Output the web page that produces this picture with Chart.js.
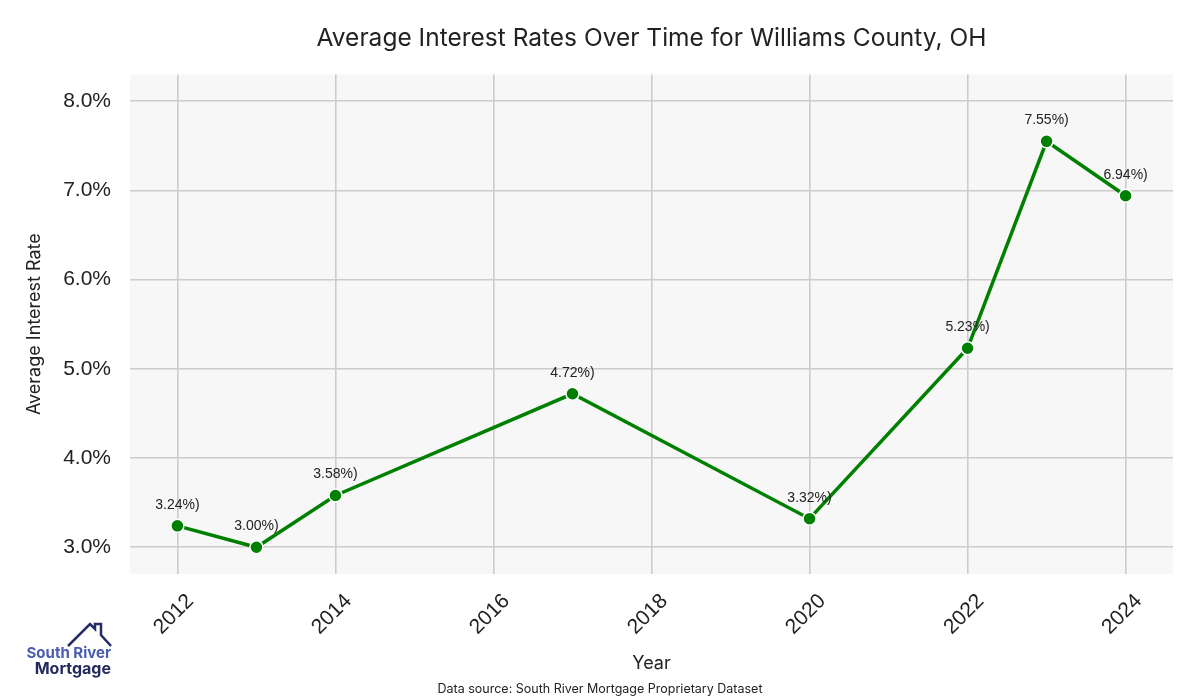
<!DOCTYPE html>
<html>
<head>
<meta charset="utf-8">
<title>Average Interest Rates Over Time for Williams County, OH</title>
<script src="https://cdn.jsdelivr.net/npm/chart.js@4.4.1/dist/chart.umd.min.js"></script>
<style>
  body { margin: 0; background: #ffffff; }
  #wrap { width: 1200px; height: 700px; }
</style>
</head>
<body>
<div id="wrap"><canvas id="rateChart" width="1200" height="700"></canvas></div>
<script>
// data
var years = [2012, 2013, 2014, 2017, 2020, 2022, 2023, 2024];
var rates = [3.24, 3.00, 3.58, 4.72, 3.32, 5.23, 7.55, 6.94];
var yearTicks = [2012, 2014, 2016, 2018, 2020, 2022, 2024];
var rateTicks = [3, 4, 5, 6, 7, 8];

var points = years.map(function (y, i) { return { x: y, y: rates[i] }; });

// grey panel behind the plot
var panelBg = {
  id: 'panelBg',
  beforeDraw: function (chart) {
    var a = chart.chartArea, ctx = chart.ctx;
    ctx.save();
    ctx.fillStyle = '#f7f7f7';
    ctx.fillRect(a.left, a.top, a.right - a.left, a.bottom - a.top);
    ctx.restore();
  }
};

// value labels above each point
var pointLabels = {
  id: 'pointLabels',
  afterDatasetsDraw: function (chart) {
    var ctx = chart.ctx;
    var meta = chart.getDatasetMeta(0);
    ctx.save();
    ctx.font = '14px "Liberation Sans", Arial, sans-serif';
    ctx.fillStyle = '#222222';
    ctx.textAlign = 'center';
    ctx.textBaseline = 'middle';
    meta.data.forEach(function (pt, i) {
      ctx.fillText(rates[i].toFixed(2) + '%)', pt.x, pt.y - 21);
    });
    ctx.restore();
  }
};

// source line and logo
var footer = {
  id: 'footer',
  afterDraw: function (chart) {
    var ctx = chart.ctx;
    ctx.save();
    ctx.font = '12.5px Inter, sans-serif';
    ctx.fillStyle = '#222222';
    ctx.textAlign = 'center';
    ctx.textBaseline = 'middle';
    ctx.fillText('Data source: South River Mortgage Proprietary Dataset', 600, 689);

    // house outline
    ctx.strokeStyle = '#262d66';
    ctx.lineWidth = 2.5;
    ctx.lineJoin = 'miter';
    ctx.beginPath();
    ctx.moveTo(68, 646);
    ctx.lineTo(90, 624);
    ctx.lineTo(95, 629);
    ctx.lineTo(95, 624);
    ctx.lineTo(101, 624);
    ctx.lineTo(101, 635);
    ctx.lineTo(111, 646);
    ctx.stroke();

    ctx.textAlign = 'right';
    ctx.font = 'bold 15px Inter, sans-serif';
    ctx.fillStyle = '#4a5cb0';
    ctx.fillText('South River', 111, 653);
    ctx.fillStyle = '#232a5c';
    ctx.font = 'bold 16px Inter, sans-serif';
    ctx.fillText('Mortgage', 111, 669);
    ctx.restore();
  }
};

var ctx = document.getElementById('rateChart').getContext('2d');

var rateChart = new Chart(ctx, {
  type: 'line',
  data: {
    datasets: [{
      data: points,
      borderColor: '#008000',
      backgroundColor: '#008000',
      borderWidth: 3.5,
      pointRadius: 6.5,
      pointHoverRadius: 6.5,
      pointBorderColor: '#ffffff',
      pointBorderWidth: 1.5,
      tension: 0
    }]
  },
  options: {
    responsive: false,
    animation: false,
    layout: { padding: { left: 0, right: 27, top: 0, bottom: 0 } },
    plugins: {
      legend: { display: false },
      tooltip: { enabled: false },
      title: {
        display: true,
        fullSize: false,
        text: 'Average Interest Rates Over Time for Williams County, OH',
        color: '#222222',
        font: { family: 'Inter, sans-serif', size: 24.5, weight: 'normal', lineHeight: 1.2 },
        padding: { top: 24, bottom: 21 }
      }
    },
    scales: {
      x: {
        type: 'linear',
        min: 2011.4,
        max: 2024.6,
        afterBuildTicks: function (scale) {
          scale.ticks = yearTicks.map(function (v) { return { value: v }; });
        },
        afterFit: function (scale) { scale.height = 126; },
        grid: { color: '#cccccc', lineWidth: 1.6, drawTicks: false },
        border: { display: false },
        ticks: {
          minRotation: 45,
          maxRotation: 45,
          padding: 15,
          labelOffset: 13,
          color: '#222222',
          font: { family: '"Liberation Sans", Arial, sans-serif', size: 21 },
          callback: function (v) { return String(v); }
        },
        title: {
          display: true,
          text: 'Year',
          color: '#222222',
          font: { family: 'Inter, sans-serif', size: 18, lineHeight: 1.2 },
          padding: { top: 0, bottom: 26 }
        }
      },
      y: {
        min: 2.7,
        max: 8.3,
        afterBuildTicks: function (scale) {
          scale.ticks = rateTicks.map(function (v) { return { value: v }; });
        },
        afterFit: function (scale) { scale.width = 130; },
        grid: { color: '#cccccc', lineWidth: 1.6, drawTicks: false },
        border: { display: false },
        ticks: {
          padding: 19,
          color: '#222222',
          font: { family: '"Liberation Sans", Arial, sans-serif', size: 21 },
          callback: function (v) { return v.toFixed(1) + '%'; }
        },
        title: {
          display: true,
          text: 'Average Interest Rate',
          color: '#222222',
          font: { family: 'Inter, sans-serif', size: 18, lineHeight: 1.2 },
          padding: { top: 24, bottom: 0 }
        }
      }
    }
  },
  plugins: [panelBg, pointLabels, footer]
});
</script>
</body>
</html>
